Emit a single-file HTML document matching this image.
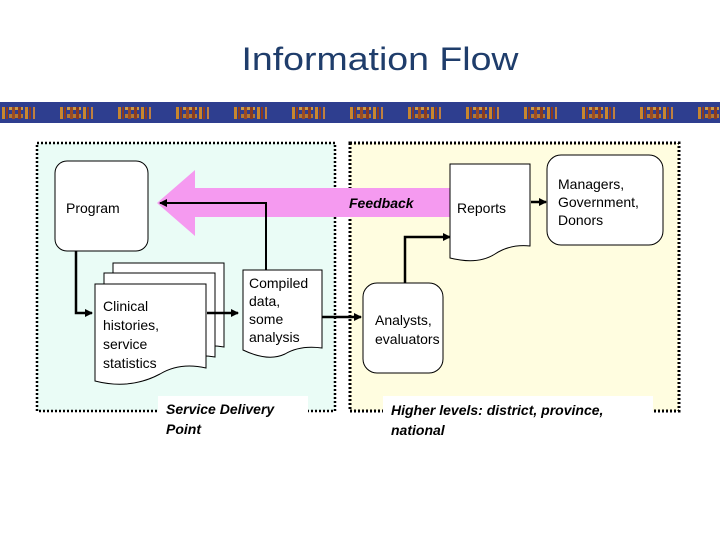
<!DOCTYPE html>
<html><head><meta charset="utf-8"><style>
html,body{margin:0;padding:0;background:#fff;}
svg{display:block;}
text{font-family:"Liberation Sans",Arial,sans-serif;}
</style></head><body>
<svg width="720" height="540" viewBox="0 0 720 540" xmlns="http://www.w3.org/2000/svg">
<defs>
<pattern id="band" x="0" y="102" width="58" height="21" patternUnits="userSpaceOnUse">
<rect width="58" height="21" fill="#2e3e8f"/>
<rect x="2" y="5" width="3" height="12" fill="#c8862e"/>
<rect x="6" y="5" width="2" height="12" fill="#8a3a20"/>
<rect x="9" y="5" width="14" height="3" fill="#c89a4a"/>
<rect x="9" y="12" width="14" height="4" fill="#b07a38"/>
<rect x="12" y="5" width="3" height="12" fill="#9a4a22"/>
<rect x="18" y="5" width="3" height="12" fill="#8a3a20"/>
<rect x="25" y="5" width="3" height="12" fill="#c8862e"/>
<rect x="29" y="5" width="2" height="12" fill="#8a3a20"/>
<rect x="33" y="5" width="2" height="12" fill="#c08040"/>
</pattern>
<marker id="ah" markerWidth="8" markerHeight="8" refX="7" refY="4" orient="auto" markerUnits="userSpaceOnUse">
<path d="M0,0 L8,4 L0,8 z" fill="#000"/>
</marker>
</defs>
<text x="380" y="70" font-size="32" fill="#1f3d6b" text-anchor="middle" textLength="277" lengthAdjust="spacingAndGlyphs">Information Flow</text>
<rect x="0" y="102" width="720" height="21" fill="url(#band)"/>

<rect x="37" y="143" width="298" height="268" fill="#eafcf6" stroke="#000" stroke-width="2.5" stroke-dasharray="2,2"/>
<rect x="350" y="143" width="329" height="268" fill="#fffde0" stroke="#000" stroke-width="3" stroke-dasharray="2,2"/>

<polygon points="157,203 195,170 195,188 450,188 450,217 195,217 195,236" fill="#f59af0"/>
<text x="349" y="208" font-size="14" font-weight="bold" font-style="italic">Feedback</text>

<rect x="55" y="161" width="93" height="90" rx="12" fill="#fff" stroke="#000" stroke-width="1"/>
<text x="66" y="213" font-size="14">Program</text>

<g fill="#fff" stroke="#000" stroke-width="1">
<path d="M113,263 H224 V347 Q200,343 180,354 Q150,368 113,360 Z"/>
<path d="M104,273 H215 V357 Q190,353 170,364 Q140,378 104,370 Z"/>
<path d="M95,284 H206 V368 Q180,362 160,374 Q130,390 95,381 Z"/>
</g>
<text font-size="14" fill="#000"><tspan x="103" y="311">Clinical</tspan><tspan x="103" y="330">histories,</tspan><tspan x="103" y="349">service</tspan><tspan x="103" y="368">statistics</tspan></text>

<path d="M243,270 H322 V348 Q300,345 285,354 Q268,362 243,350 Z" fill="#fff" stroke="#000"/>
<text font-size="14"><tspan x="249" y="288">Compiled</tspan><tspan x="249" y="306">data,</tspan><tspan x="249" y="324">some</tspan><tspan x="249" y="342">analysis</tspan></text>

<g stroke="#000" stroke-width="2.5" fill="none">
<polyline points="76,251 76,313 92,313" marker-end="url(#ah)"/>
<line x1="207" y1="313" x2="238" y2="313" marker-end="url(#ah)"/>
<polyline points="266,270 266,203 160,203" marker-end="url(#ah)" stroke-width="2"/>
<line x1="322" y1="317" x2="361" y2="317" marker-end="url(#ah)"/>
<polyline points="405,283 405,237 450,237" marker-end="url(#ah)"/>
<line x1="531" y1="202" x2="546" y2="202" marker-end="url(#ah)"/>
</g>

<rect x="363" y="283" width="80" height="90" rx="14" fill="#fff" stroke="#000"/>
<text font-size="14"><tspan x="375" y="325">Analysts,</tspan><tspan x="375" y="344">evaluators</tspan></text>

<path d="M450,164 H530 V246 Q510,244 495,254 Q478,265 450,258 Z" fill="#fff" stroke="#000"/>
<text x="457" y="213" font-size="14">Reports</text>

<rect x="547" y="155" width="116" height="90" rx="14" fill="#fff" stroke="#000"/>
<text font-size="14"><tspan x="558" y="189">Managers,</tspan><tspan x="558" y="207">Government,</tspan><tspan x="558" y="225">Donors</tspan></text>

<rect x="158" y="396" width="150" height="40" fill="#fff"/>
<text font-size="14" font-weight="bold" font-style="italic"><tspan x="166" y="414">Service Delivery</tspan><tspan x="166" y="434">Point</tspan></text>
<rect x="383" y="396" width="270" height="40" fill="#fff"/>
<text font-size="14" font-weight="bold" font-style="italic"><tspan x="391" y="415">Higher levels: district, province,</tspan><tspan x="391" y="435">national</tspan></text>
</svg>
</body></html>
